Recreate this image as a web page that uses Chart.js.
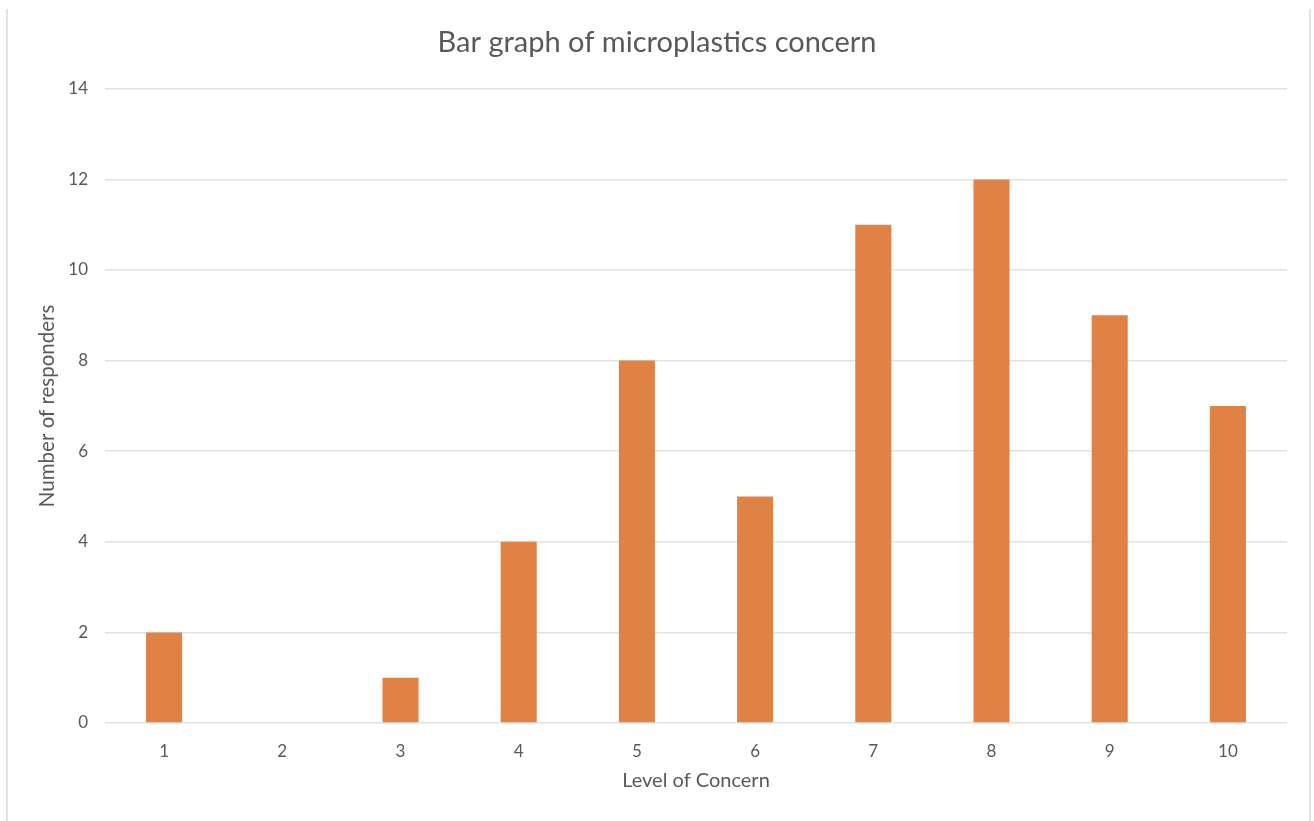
<!DOCTYPE html>
<html>
<head>
<meta charset="utf-8">
<title>Bar graph of microplastics concern</title>
<script src="https://cdn.jsdelivr.net/npm/chart.js@4/dist/chart.umd.min.js"></script>
<style>
  html, body { margin: 0; padding: 0; background: #ffffff; overflow: hidden; }
  #wrap { position: relative; width: 1314px; height: 821px; }
  #chart { position: absolute; left: 0; top: 0; }
  .edge { position: absolute; top: 9px; bottom: 0; width: 2px; background: #e3e3e3; }
</style>
</head>
<body>
<div id="wrap">
  <canvas id="chart" width="1314" height="821"></canvas>
  <div class="edge" style="left:6px"></div>
  <div class="edge" style="left:1309px"></div>
</div>
<script>
// Survey results: how many responders chose each level of concern (1-10)
const levels = ['1', '2', '3', '4', '5', '6', '7', '8', '9', '10'];
const responders = [2, 0, 1, 4, 8, 5, 11, 12, 9, 7];
const yTicks = [0, 2, 4, 6, 8, 10, 12, 14];

const textColor = '#595959';
const gridColor = '#e2e2e2';
const barColor = '#e08243';
const family = 'Lato, "Open Sans", sans-serif';

new Chart(document.getElementById('chart'), {
  type: 'bar',
  data: {
    labels: levels,
    datasets: [{
      label: 'Number of responders',
      data: responders,
      backgroundColor: barColor,
      borderWidth: 0,
      categoryPercentage: 1,
      barPercentage: 0.305
    }]
  },
  options: {
    responsive: false,
    animation: false,
    layout: { padding: 0 },
    plugins: {
      legend: { display: false },
      tooltip: { enabled: false },
      title: {
        display: true,
        text: 'Bar graph of microplastics concern',
        color: textColor,
        font: { family, size: 29, weight: 'normal', lineHeight: 1.2 },
        padding: { top: 25, bottom: 29 }
      }
    },
    scales: {
      x: {
        grid: { display: false },
        border: { display: false },
        ticks: { color: textColor, font: { family, size: 17 }, padding: 10 },
        title: {
          display: true,
          text: 'Level of Concern',
          color: textColor,
          font: { family, size: 20, lineHeight: 1.2 },
          padding: { top: 0, bottom: 28 }
        },
        afterFit: (s) => { s.height = 821 - 723; }
      },
      y: {
        min: 0,
        max: 14,
        afterBuildTicks: (s) => { s.ticks = yTicks.map(v => ({ value: v })); },
        grid: { color: gridColor, lineWidth: 1.5, drawTicks: false },
        border: { display: false },
        ticks: { color: textColor, font: { family, size: 17 }, padding: 17 },
        title: {
          display: true,
          text: 'Number of responders',
          color: textColor,
          font: { family, size: 20.5, lineHeight: 1.2 },
          padding: { top: 35, bottom: 0 }
        },
        afterFit: (s) => { s.width = 105; }
      },
      // empty margin on the right so the plot ends short of the frame
      rightGap: {
        type: 'linear',
        position: 'right',
        display: true,
        grid: { display: false },
        border: { display: false },
        ticks: { display: false },
        afterFit: (s) => { s.width = 27; }
      }
    }
  }
});
</script>
</body>
</html>
